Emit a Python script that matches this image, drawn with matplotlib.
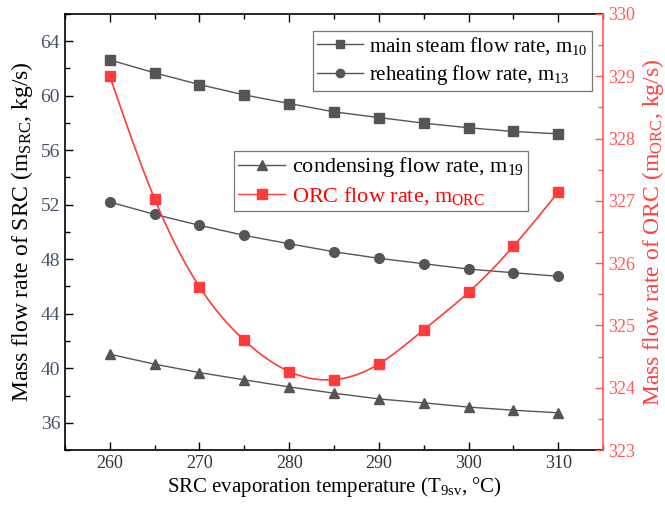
import numpy as np
import matplotlib
matplotlib.use("Agg")
import matplotlib.pyplot as plt
from matplotlib.ticker import MultipleLocator
from matplotlib.lines import Line2D

plt.rcParams['font.family'] = ['Liberation Serif', 'DejaVu Serif']
plt.rcParams['mathtext.fontset'] = 'custom'
plt.rcParams['mathtext.rm'] = 'Liberation Serif'
plt.rcParams['mathtext.it'] = 'Liberation Serif:italic'

temps = [260, 265, 270, 275, 280, 285, 290, 295, 300, 305, 310]
main_steam = [62.63, 61.68, 60.82, 60.06, 59.43, 58.82, 58.40, 57.99, 57.65, 57.38, 57.20]
reheating = [52.20, 51.29, 50.49, 49.75, 49.14, 48.55, 48.07, 47.67, 47.28, 47.01, 46.75]
condensing = [41.03, 40.30, 39.68, 39.15, 38.63, 38.17, 37.75, 37.46, 37.15, 36.92, 36.73]
orc = [329.00, 327.03, 325.62, 324.76, 324.26, 324.13, 324.38, 324.93, 325.53, 326.27, 327.14]

left_ticks = [36, 40, 44, 48, 52, 56, 60, 64]
right_ticks = [323, 324, 325, 326, 327, 328, 329, 330]
x_ticks = [260, 270, 280, 290, 300, 310]

GREY = '#555555'
RED = '#ff3b3b'
AXRED = '#ff5a5a'


def natural_spline(x, y, n=400):
    x = np.asarray(x, float); y = np.asarray(y, float)
    m = len(x); h = np.diff(x)
    A = np.zeros((m, m)); b = np.zeros(m)
    A[0, 0] = 1; A[-1, -1] = 1
    for i in range(1, m - 1):
        A[i, i - 1] = h[i - 1]; A[i, i] = 2 * (h[i - 1] + h[i]); A[i, i + 1] = h[i]
        b[i] = 6 * ((y[i + 1] - y[i]) / h[i] - (y[i] - y[i - 1]) / h[i - 1])
    M = np.linalg.solve(A, b)
    xs = np.linspace(x[0], x[-1], n)
    idx = np.clip(np.searchsorted(x, xs) - 1, 0, m - 2)
    x0 = x[idx]; x1 = x[idx + 1]; hh = x1 - x0
    ys = (M[idx] * (x1 - xs) ** 3 / (6 * hh) + M[idx + 1] * (xs - x0) ** 3 / (6 * hh)
          + (y[idx] / hh - M[idx] * hh / 6) * (x1 - xs)
          + (y[idx + 1] / hh - M[idx + 1] * hh / 6) * (xs - x0))
    return xs, ys


fig = plt.figure(figsize=(6.65, 5.05), dpi=100)
ax = fig.add_axes([0.0977, 0.1089, 0.8091, 0.8634])
ax2 = ax.twinx()

ms = 7
ax.plot(temps, main_steam, '-', color=GREY, lw=1.0, marker='s', ms=ms, mfc=GREY, mec=GREY)
ax.plot(temps, reheating, '-', color=GREY, lw=1.0, marker='o', ms=ms, mfc=GREY, mec=GREY)
ax.plot(temps, condensing, '-', color=GREY, lw=1.0, marker='^', ms=ms, mfc=GREY, mec=GREY)

xs, ys = natural_spline(temps, orc)
ax2.plot(xs, ys, '-', color=RED, lw=1.2)
ax2.plot(temps, orc, 's', color=RED, ms=ms, mec=RED)

ax.set_xlim(255, 315)
ax.set_ylim(34, 66)
ax2.set_ylim(323, 330)

ax.set_xticks(x_ticks)
ax.xaxis.set_minor_locator(MultipleLocator(5))
ax.set_yticks(left_ticks)
ax.yaxis.set_minor_locator(MultipleLocator(2))
ax2.set_yticks(right_ticks)
ax2.yaxis.set_minor_locator(MultipleLocator(0.5))

ax.tick_params(axis='both', which='major', direction='in', length=6, width=1, labelsize=13,
               labelcolor='#333333', top=True, right=False)
ax.tick_params(axis='both', which='minor', direction='in', length=3.5, width=1, top=True, right=False)
ax.tick_params(axis='y', labelcolor='#44546a', labelsize=14)
ax2.tick_params(axis='y', which='major', direction='in', length=6, width=1, labelsize=13,
                colors=AXRED)
ax2.tick_params(axis='y', which='minor', direction='in', length=3.5, width=1, colors=AXRED)

for s in ['left', 'top', 'bottom']:
    ax.spines[s].set_linewidth(1.2)
ax2.spines['right'].set_color(AXRED)
ax2.spines['right'].set_linewidth(1.2)
ax.spines['right'].set_visible(False)
for s in ['left', 'top', 'bottom']:
    ax2.spines[s].set_visible(False)

ax.set_xlabel(r'SRC evaporation temperature (T$_{\rm 9sv}$, °C)', fontsize=15, labelpad=2)
ax.set_ylabel(r'Mass flow rate of SRC (m$_{\rm SRC}$, kg/s)', fontsize=17, labelpad=4)
ax2.set_ylabel(r'Mass flow rate of ORC (m$_{\rm ORC}$, kg/s)', fontsize=17, color='#ff4040', labelpad=4)

h1 = [Line2D([], [], color=GREY, lw=1.0, marker='s', ms=6, mfc=GREY, mec=GREY),
      Line2D([], [], color=GREY, lw=1.0, marker='o', ms=6, mfc=GREY, mec=GREY)]
leg1 = ax.legend(h1, [r'main steam flow rate, m$_{\rm 10}$', r'reheating flow rate, m$_{\rm 13}$'],
                 loc='upper left', bbox_to_anchor=(0.461, 0.961), fontsize=15, frameon=True,
                 fancybox=False, edgecolor='#777777', framealpha=1, handlelength=2.2,
                 handletextpad=0.3, borderpad=0.2, labelspacing=0.3, borderaxespad=0)
leg1.get_frame().set_linewidth(0.9)

h2 = [Line2D([], [], color=GREY, lw=1.0, marker='^', ms=6.5, mfc=GREY, mec=GREY),
      Line2D([], [], color=RED, lw=1.0, marker='s', ms=6.5, mfc=RED, mec=RED)]
leg2 = ax2.legend(h2, [r'condensing flow rate, m$_{\rm 19}$', r'ORC flow rate, m$_{\rm ORC}$'],
                  loc='upper left', bbox_to_anchor=(0.314, 0.686), fontsize=16, frameon=True,
                  fancybox=False, edgecolor='#777777', framealpha=1, handlelength=2.1,
                  handletextpad=0.3, borderpad=0.2, labelspacing=0.25, borderaxespad=0)
leg2.get_frame().set_linewidth(0.9)
leg2.get_texts()[1].set_color('#ff0000')

fig.savefig('out.png', dpi=100)
